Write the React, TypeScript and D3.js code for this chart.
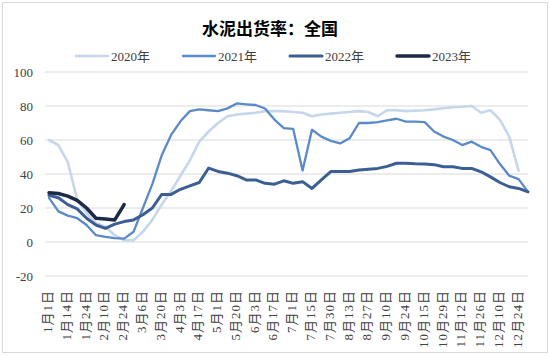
import React from 'react';
import * as d3 from 'd3';

const xTickLabels = ['1月1日','1月14日','1月24日','2月10日','2月24日','3月6日','3月20日','4月3日','4月17日','5月1日','5月20日','6月3日','6月17日','7月1日','7月15日','7月30日','8月13日','8月27日','9月10日','9月24日','10月15日','10月29日','11月12日','11月26日','12月10日','12月24日'];
const yTicks = [-20, 0, 20, 40, 60, 80, 100];
const seriesNames = ['2020年', '2021年', '2022年', '2023年'];

const s2020: (number | null)[] = [60,57,47,25,17,11,9,4,1,1,6,13,22,30,39,48,59,65,70,74,75,75.5,76,77,77,77,76.5,76,74,75,75.5,76,76.5,77,76.5,74,77.5,77.5,77,77.3,77.5,78,78.7,79.3,79.6,80,76,77.5,72,62,42,null];
const s2021: (number | null)[] = [26,18,15.5,14,10,4,3,2.3,2,6,20,34,51,63,71,77,78,77.5,77,78.6,81.5,81,80.6,78.5,72,67,66.5,42,66,62,59.5,58,61,70,70,70.5,71.5,72.5,70.8,70.8,70.5,65,62,60,57,59,56,54,46,39,37,29.5];
const s2022: (number | null)[] = [27.5,26,22,19.5,14,10,8,10.5,12,13,16,20,28,28,31,33,35,43.5,41.5,40.5,39,36.5,36.5,34.5,34,36,34.5,35.5,31.5,36.5,41.4,41.4,41.5,42.4,42.8,43.3,44.5,46.3,46.3,46,45.9,45.5,44.3,44.3,43.3,43.3,41.3,38.3,35,32.5,31.5,29.5];
const s2023: (number | null)[] = [29,28.5,27,24.5,20,14,13.5,13,22];

const colors = ['#c6d6eb', '#5a8bc8', '#3b5f92', '#1c2a47'];
const widths = [2.6, 2.3, 3, 3.5];

const W = 550, H = 357;
const nCats = 52;

export default function App() {
  const x = d3.scalePoint<number>().domain(d3.range(nCats)).range([49, 528]);
  const y = d3.scaleLinear().domain([-20, 100]).range([276, 72]);
  const line = d3.line<number | null>()
    .defined(d => d != null)
    .x((_, i) => x(i) as number)
    .y(d => y(d as number));
  const allSeries = [s2020, s2021, s2022, s2023];
  const legendX = [76, 183, 290, 397];
  const serif = '"Liberation Serif", "DejaVu Serif", "Noto Sans CJK SC", serif';
  return (
    <svg width={W} height={H} style={{ position: 'absolute', left: 0, top: 0, background: '#fff' }}>
      <rect x={2.5} y={2.5} width={545} height={350} fill="#fff" stroke="#d9d9d9" strokeWidth={1} />
      <text x={270} y={27} textAnchor="middle" dominantBaseline="central" fontFamily='"Noto Sans CJK SC", sans-serif' fontWeight="bold" fontSize={17} fill="#000">水泥出货率：全国</text>
      {seriesNames.map((n, i) => (
        <g key={n}>
          <line x1={legendX[i]} x2={legendX[i] + 32} y1={56} y2={56} stroke={colors[i]} strokeWidth={widths[i]} strokeLinecap="round" />
          <text x={legendX[i] + 35} y={56} dy="0.35em" fontFamily={serif} fontSize={13} fill="#404040">{n}</text>
        </g>
      ))}
      {yTicks.map(t => (
        <g key={t}>
          <line x1={45} x2={528} y1={y(t)} y2={y(t)} stroke="#d9d9d9" strokeWidth={1} />
          <text x={33} y={y(t)} dy="0.35em" textAnchor="end" fontFamily={serif} fontSize={13} fill="#404040">{t}</text>
        </g>
      ))}
      {xTickLabels.map((l, k) => (
        <text key={l} transform={`translate(${(x(k * 2) as number) - 1.5},290) rotate(-90)`} dy="0.35em" textAnchor="end" fontFamily={serif} fontSize={13} letterSpacing={1} fill="#404040">{l}</text>
      ))}
      {allSeries.map((s, i) => (
        <path key={i} d={line(s) || ''} fill="none" stroke={colors[i]} strokeWidth={widths[i]} strokeLinejoin="round" strokeLinecap="round" />
      ))}
    </svg>
  );
}
